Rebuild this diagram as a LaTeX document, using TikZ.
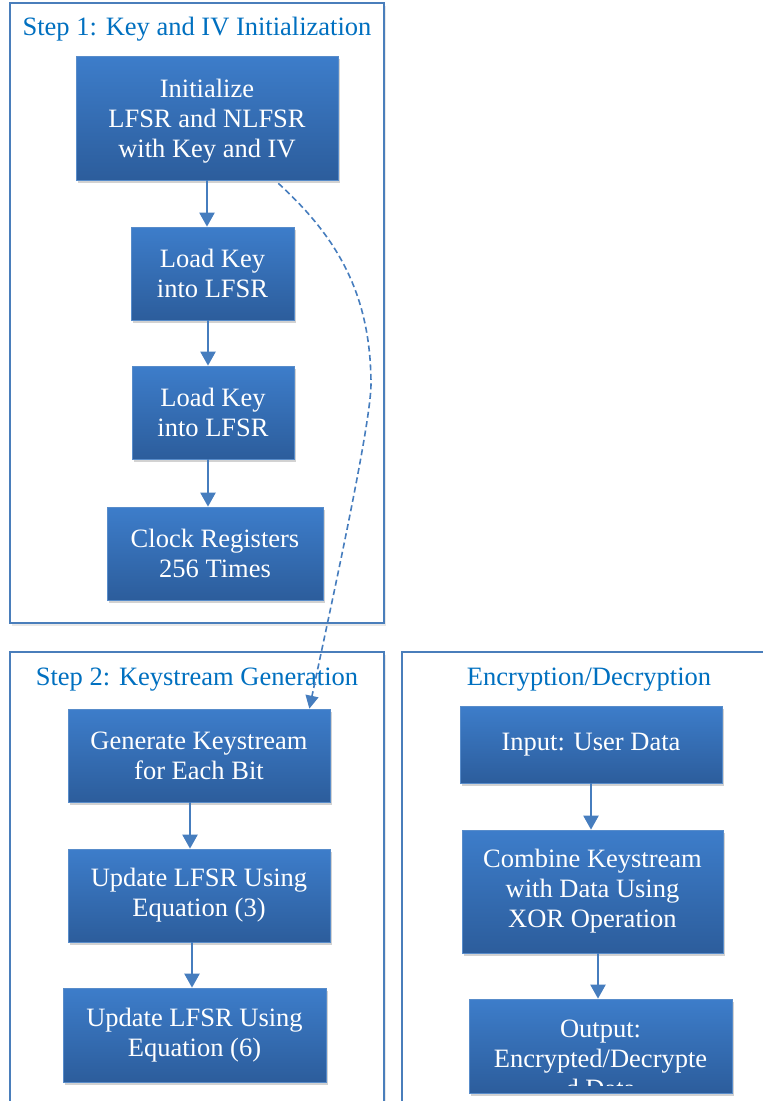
\documentclass[tikz,border=0pt]{standalone}
\usepackage{fontspec}
\setmainfont{Liberation Serif}
\usetikzlibrary{arrows.meta,shadows}
\definecolor{frameblue}{RGB}{74,126,187}
\definecolor{titleblue}{RGB}{0,112,192}
\definecolor{boxtop}{RGB}{61,125,202}
\definecolor{boxbot}{RGB}{44,93,156}
\definecolor{boxline}{RGB}{88,140,202}
\definecolor{arrowblue}{RGB}{70,125,190}
\begin{document}
\begin{tikzpicture}[x=1pt,y=-1pt,
  frame/.style={draw=frameblue,line width=1.6pt,fill=white,
    drop shadow={opacity=0.18,shadow xshift=1.5pt,shadow yshift=-2.5pt}},
  ttl/.style={text=titleblue,font=\fontsize{26.5}{30}\selectfont,inner sep=0pt},
  box/.style={draw=boxline,line width=0.7pt,top color=boxtop,bottom color=boxbot,
    text=white,font=\fontsize{26.5}{30}\selectfont,align=center,inner sep=0pt,
    drop shadow={opacity=0.35,shadow xshift=2pt,shadow yshift=-3pt}},
  boxtext/.style={text=white,font=\fontsize{26.5}{30}\selectfont,align=center,inner sep=0pt},
  arr/.style={draw=arrowblue,line width=2.2pt,-{Triangle[width=15pt,length=14pt]}},
  dsh/.style={draw=arrowblue,line width=1.6pt,dash pattern=on 6pt off 3.5pt,
    -{Triangle[width=13pt,length=13pt]}}]
\path[use as bounding box,clip] (0,0) rectangle (763,1101);

% frames
\path[frame] (10,3) rectangle (384,623);
\path[frame] (10,652) rectangle (384,1125);
\path[frame] (402,652) rectangle (785,1125);

% titles
\node[ttl,anchor=base] (t1) at (197,35) {Step 1: Key and IV Initialization};
\node[ttl,anchor=base] (t2) at (197,685) {Step 2: Keystream Generation};
\node[ttl,anchor=base] (t3) at (589,685) {Encryption/Decryption};

% step 1
\node[box,minimum width=262pt,minimum height=124pt,text depth=0pt] (b1) at (207,118)
  {Initialize\\LFSR and NLFSR\\with Key and IV};
\node[box,minimum width=163pt,minimum height=93pt] (b2) at (212.5,273.5)
  {Load Key\\into LFSR};
\node[box,minimum width=162pt,minimum height=93pt] (b3) at (213,412.5)
  {Load Key\\into LFSR};
\node[box,minimum width=216pt,minimum height=93pt] (b4) at (215,553.5)
  {Clock Registers\\256 Times};

% step 2
\node[box,minimum width=262pt,minimum height=93pt] (b5) at (199,755.5)
  {Generate Keystream\\for Each Bit};
\node[box,minimum width=262pt,minimum height=93pt] (b6) at (199,895.5)
  {Update LFSR Using\\Equation (3)};
\node[box,minimum width=263pt,minimum height=94pt] (b7) at (194.5,1035)
  {Update LFSR Using\\Equation (6)};

% encryption / decryption
\node[box,minimum width=262pt,minimum height=77pt] (b8) at (591,744.5)
  {Input: User Data};
\node[box,minimum width=261pt,minimum height=123pt] (b9) at (592.5,891.5)
  {Combine Keystream\\with Data Using\\XOR Operation};
\node[box,minimum width=263pt,minimum height=94pt] (b10) at (600.5,1046) {};
\begin{scope}
  \clip (b10.north west) rectangle ([yshift=8pt]b10.south east);
  \node[boxtext] (b10t) at (600.5,1059) {Output:\\Encrypted/Decrypte\\d Data};
\end{scope}

% connectors
\draw[arr] (b1.south) -- (b1.south |- b2.north);
\draw[arr] ([xshift=-4.5pt]b2.south) -- ([xshift=-4.5pt]b2.south |- b3.north);
\draw[arr] ([xshift=-5pt]b3.south) -- ([xshift=-5pt]b3.south |- b4.north);
\draw[arr] ([xshift=-9pt]b5.south) -- ([xshift=-9pt]b5.south |- b6.north);
\draw[arr] ([xshift=-7pt]b6.south) -- ([xshift=-7pt]b6.south |- b7.north);
\draw[arr] (b8.south) -- (b8.south |- b9.north);
\draw[arr] ([xshift=5.5pt]b9.south) -- ([xshift=5.5pt]b9.south |- b10.north);

\draw[dsh] ([xshift=-60pt,yshift=-3pt]b1.south east)
  .. controls (338,238) and (371,295) .. (371,385)
  .. controls (370,430) and (330,610) .. ([xshift=-21pt]b5.north east);
\end{tikzpicture}
\end{document}
